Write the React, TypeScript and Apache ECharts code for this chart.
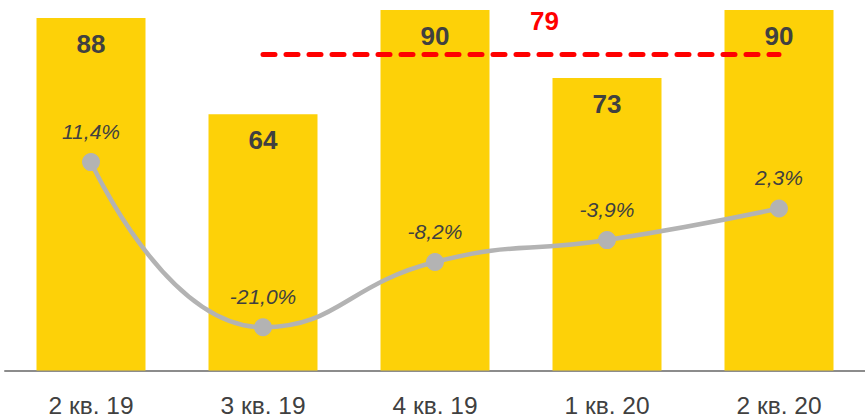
import React, { useEffect, useRef } from "react";
import * as echarts from "echarts";

const categories = ["2 кв. 19", "3 кв. 19", "4 кв. 19", "1 кв. 20", "2 кв. 20"];
const volumes = [88, 64, 90, 73, 90];
const growth = [11.4, -21.0, -8.2, -3.9, 2.3];
const targetValue = 79;
const targetFrom = "3 кв. 19";
const targetTo = "2 кв. 20";

const FONT = "'Liberation Sans', Arial, sans-serif";
const TEXT_COLOR = "#404040";

export default function App() {
  const ref = useRef<HTMLDivElement>(null);

  useEffect(() => {
    document.body.style.margin = "0";
    if (!ref.current) return;
    const chart = echarts.init(ref.current, undefined, { renderer: "svg" });
    chart.setOption({
      animation: false,
      textStyle: { fontFamily: FONT },
      grid: { left: 5, top: 10, width: 862.75, height: 361 },
      xAxis: {
        type: "category",
        data: categories,
        offset: 2.5,
        axisLine: { show: true, lineStyle: { color: "#8c8c8c", width: 2 } },
        axisTick: { show: false },
        axisLabel: { fontSize: 24.5, color: TEXT_COLOR, margin: 20, fontFamily: FONT },
      },
      yAxis: [
        { type: "value", min: 0, max: 90, show: false },
        { type: "value", min: -29.48, max: 41.23, show: false },
      ],
      series: [
        {
          type: "bar",
          data: volumes,
          barWidth: 109,
          itemStyle: { color: "#FDD108" },
          label: {
            show: true,
            position: "insideTop",
            distance: 13,
            fontSize: 26,
            fontWeight: "bold",
            color: TEXT_COLOR,
            fontFamily: FONT,
          },
          markLine: {
            silent: true,
            symbol: "none",
            label: { show: false },
            lineStyle: { color: "#ff0000", width: 5, type: [12, 11], cap: "round" },
            data: [[{ coord: [targetFrom, targetValue] }, { coord: [targetTo, targetValue] }]],
          },
        },
        {
          type: "line",
          yAxisIndex: 1,
          data: growth,
          smooth: true,
          symbol: "circle",
          symbolSize: 18,
          lineStyle: { color: "#b3b3b3", width: 4.5 },
          itemStyle: { color: "#b3b3b3" },
          label: {
            show: true,
            position: "top",
            distance: 11,
            fontSize: 21,
            fontStyle: "italic",
            color: TEXT_COLOR,
            fontFamily: FONT,
            formatter: (p: any) => p.value.toFixed(1).replace(".", ",") + "%",
          },
          z: 5,
        },
      ],
      graphic: [
        {
          type: "text",
          left: 530,
          top: 8,
          style: {
            text: String(targetValue),
            fontSize: 26,
            fontWeight: "bold",
            fill: "#ff0000",
            fontFamily: FONT,
          },
        },
      ],
    });
    return () => chart.dispose();
  }, []);

  return <div ref={ref} style={{ width: 865, height: 418 }} />;
}
